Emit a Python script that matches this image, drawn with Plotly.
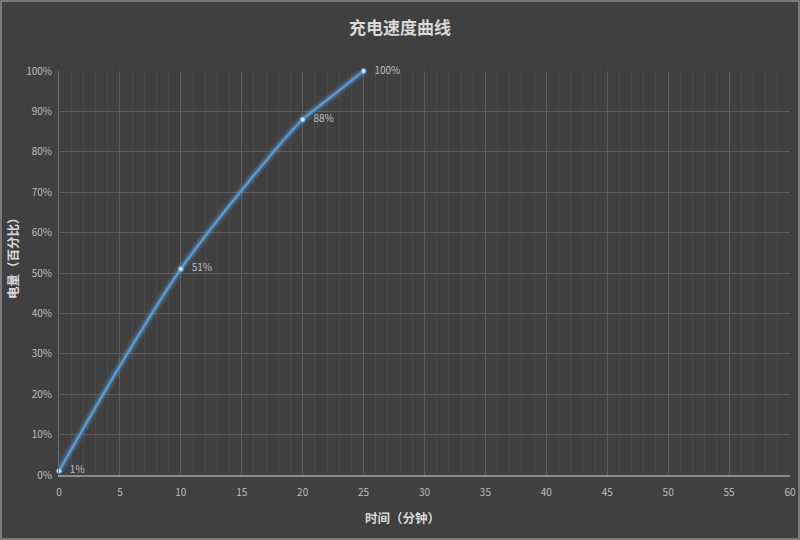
import plotly.graph_objects as go

# 充电数据（分钟 / 电量百分比）
minutes = [0, 5, 10, 15, 20, 22, 25]
battery = [1, 27, 51, 70.5, 88, 92.8, 100]

# 带标签的点
label_minutes = [0, 10, 20, 25]
label_battery = [1, 51, 88, 100]
label_text = ["1%", "51%", "88%", "100%"]

x_ticks = list(range(0, 61, 5))
y_ticks = list(range(0, 101, 10))
y_tick_text = [f"{v}%" for v in y_ticks]

BG = "#404040"
FONT = "Noto Sans CJK SC"

fig = go.Figure()

# 发光效果：几层半透明宽线
for w, a in [(10, 0.10), (7, 0.16), (4.5, 0.25)]:
    fig.add_trace(go.Scatter(
        x=minutes, y=battery, mode="lines", cliponaxis=False,
        line=dict(color=f"rgba(91,155,213,{a})", width=w, shape="spline", smoothing=0.8),
        hoverinfo="skip", showlegend=False,
    ))

fig.add_trace(go.Scatter(
    x=minutes, y=battery, mode="lines", cliponaxis=False,
    line=dict(color="#5b9bd5", width=2.2, shape="spline", smoothing=0.8),
    showlegend=False,
))

fig.add_trace(go.Scatter(
    x=label_minutes, y=label_battery, mode="markers+text", cliponaxis=False,
    marker=dict(size=5, color="#cfe2f5", line=dict(color="#5b9bd5", width=1)),
    text=["   " + t for t in label_text], textposition="middle right",
    textfont=dict(family=FONT, size=10, color="#bfbfbf"),
    showlegend=False,
))

fig.update_layout(
    width=800, height=540,
    paper_bgcolor=BG, plot_bgcolor=BG,
    margin=dict(l=59, r=10, t=71, b=65),
    font=dict(family=FONT, color="#bfbfbf"),
    showlegend=False,
    annotations=[
        dict(text="<b>充电速度曲线</b>", xref="paper", yref="paper",
             x=(400 - 59) / 731, y=(475 - 27) / 404, showarrow=False,
             xanchor="center", yanchor="middle",
             font=dict(size=17, color="#d9d9d9", family=FONT)),
        dict(text="<b>时间（分钟）</b>", xref="paper", yref="paper",
             x=(402 - 59) / 731, y=(475 - 517) / 404, showarrow=False,
             xanchor="center", yanchor="middle",
             font=dict(size=12.5, color="#d9d9d9", family=FONT)),
        dict(text="<b>电量（百分比）</b>", xref="paper", yref="paper",
             x=(13 - 59) / 731, y=(475 - 255) / 404, showarrow=False, textangle=-90,
             xanchor="center", yanchor="middle",
             font=dict(size=12.5, color="#d9d9d9", family=FONT)),
    ],
    shapes=[
        dict(type="rect", xref="paper", yref="paper",
             x0=(1 - 59) / 731, x1=(799 - 59) / 731,
             y0=(475 - 539) / 404, y1=(475 - 1) / 404,
             line=dict(color="#8c8c8c", width=1.5), layer="below"),
    ],
)

fig.update_xaxes(
    range=[0, 60], tickvals=x_ticks, showgrid=True, gridcolor="#5e5e5e", gridwidth=1,
    minor=dict(dtick=1, showgrid=True, gridcolor="#4b4b4b", gridwidth=1),
    showline=True, linecolor="#8a8a8a", linewidth=1.5,
    tickfont=dict(size=10, color="#bfbfbf"), ticks="", zeroline=False,
    ticklabelstandoff=7, automargin=False,
)
fig.update_yaxes(
    range=[0, 100], tickvals=y_ticks, ticktext=y_tick_text,
    showgrid=True, gridcolor="#5e5e5e", gridwidth=1,
    showline=True, linecolor="#6e6e6e", linewidth=1,
    tickfont=dict(size=10, color="#bfbfbf"), ticks="", zeroline=False,
    ticklabelstandoff=4, automargin=False,
)

fig.write_html("out.html", config={"displayModeBar": False},
               post_script="document.body.style.margin='0';")
